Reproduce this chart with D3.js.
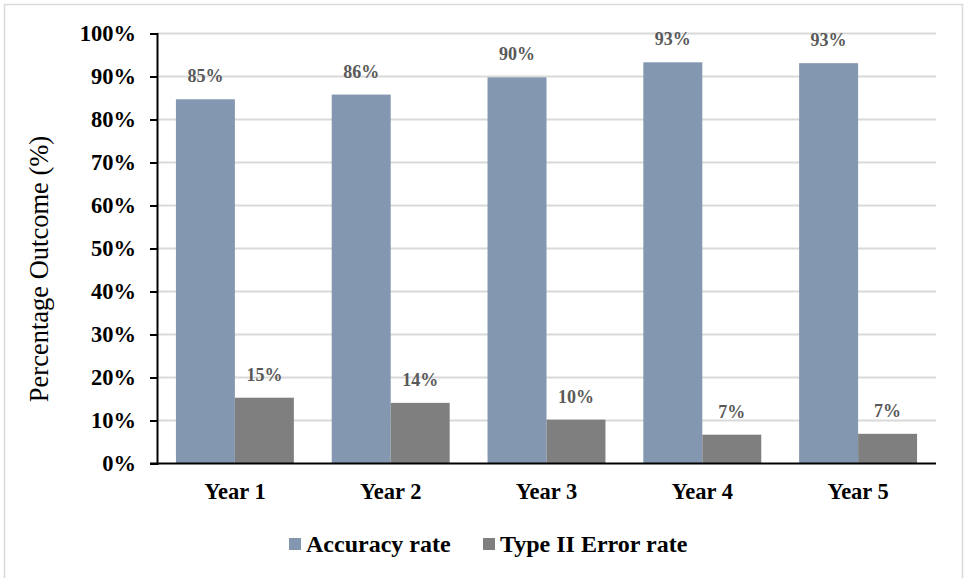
<!DOCTYPE html>
<html>
<head>
<meta charset="utf-8">
<script src="https://cdn.jsdelivr.net/npm/d3@7"></script>
<style>
  html, body { margin: 0; padding: 0; background: #fff; }
  svg { display: block; }
  svg text { font-family: "Liberation Serif", Tinos, "Times New Roman", Times, serif !important; }
</style>
</head>
<body>
<svg id="chart" width="965" height="578"></svg>
<script>
// Yearly outcome rates
const years = ["Year 1", "Year 2", "Year 3", "Year 4", "Year 5"];
const seriesNames = ["Accuracy rate", "Type II Error rate"];
const accuracyRate = [0.847, 0.858, 0.898, 0.933, 0.931];
const typeIIErrorRate = [0.153, 0.141, 0.102, 0.067, 0.069];
const yTicks = [0, 0.1, 0.2, 0.3, 0.4, 0.5, 0.6, 0.7, 0.8, 0.9, 1.0];
const colors = ["#8497b0", "#7f7f7f"];

const seriesValues = [accuracyRate, typeIIErrorRate];
const rows = years.map((year, i) => ({
  year,
  values: seriesNames.map((name, s) => ({ name, value: seriesValues[s][i], s }))
}));

const svg = d3.select("#chart");

// outer frame
svg.append("rect")
  .attr("x", 4.5).attr("y", 4.5)
  .attr("width", 958).attr("height", 600)
  .attr("fill", "#fff")
  .attr("stroke", "#d9d9d9").attr("stroke-width", 1.5);

const plot = { left: 157, right: 936, top: 33.5, bottom: 463.5 };

const y = d3.scaleLinear().domain([0, 1]).range([plot.bottom, plot.top]);
const x = d3.scaleBand().domain(years)
  .range([plot.left, plot.right])
  .paddingInner(0.243).paddingOuter(0.1215);
const xSub = d3.scaleBand().domain(seriesNames).range([0, x.bandwidth()]);

// horizontal gridlines
svg.append("g")
  .selectAll("line")
  .data(yTicks.filter(t => t > 0))
  .join("line")
  .attr("x1", plot.left).attr("x2", plot.right)
  .attr("y1", d => y(d)).attr("y2", d => y(d))
  .attr("stroke", "#d9d9d9").attr("stroke-width", 2);

// bars
const groups = svg.append("g")
  .selectAll("g")
  .data(rows)
  .join("g")
  .attr("transform", d => `translate(${x(d.year)},0)`);

groups.selectAll("rect")
  .data(d => d.values)
  .join("rect")
  .attr("x", d => xSub(d.name))
  .attr("y", d => y(d.value))
  .attr("width", xSub.bandwidth())
  .attr("height", d => y(0) - y(d.value))
  .attr("fill", d => colors[d.s]);

// value labels
const pct = d3.format(".0%");
groups.selectAll("text")
  .data(d => d.values)
  .join("text")
  .attr("x", d => xSub(d.name) + xSub.bandwidth() / 2)
  .attr("y", d => y(d.value) - 17)
  .attr("text-anchor", "middle")
  .attr("font-weight", "bold")
  .attr("font-size", 18)
  .attr("fill", "#595959")
  .text(d => pct(d.value));

// y axis
const yAxis = d3.axisLeft(y).tickValues(yTicks).tickFormat(pct).tickSizeOuter(0).tickSize(7).tickPadding(14);
const gy = svg.append("g").attr("transform", `translate(${plot.left},0)`).call(yAxis);
gy.attr("font-family", null);
gy.select(".domain").attr("stroke", "#000").attr("stroke-width", 2);
gy.selectAll(".tick line").attr("stroke", "#000").attr("stroke-width", 2);
gy.selectAll(".tick text")
  .attr("font-size", 22.5).attr("font-weight", "bold").attr("fill", "#000");

// x axis
const xAxis = d3.axisBottom(x).tickSize(0).tickSizeOuter(0).tickPadding(20);
const gx = svg.append("g").attr("transform", `translate(0,${plot.bottom})`).call(xAxis);
gx.attr("font-family", null);
gx.select(".domain").attr("stroke", "#000").attr("stroke-width", 2)
  .attr("d", `M${plot.left - 7},0H${plot.right}`);
gx.selectAll(".tick text")
  .attr("font-size", 22.5).attr("font-weight", "bold").attr("fill", "#000");

// y axis title
svg.append("text")
  .attr("transform", "translate(48,269) rotate(-90)")
  .attr("text-anchor", "middle")
  .attr("font-size", 26.5)
  .attr("fill", "#000")
  .text("Percentage Outcome (%)");

// legend
const legend = svg.append("g").attr("transform", "translate(289,538)");
const legendX = [0, 194];
const items = legend.selectAll("g")
  .data(seriesNames)
  .join("g")
  .attr("transform", (d, i) => `translate(${legendX[i]},0)`);
items.append("rect")
  .attr("width", 12).attr("height", 12)
  .attr("fill", (d, i) => colors[i]);
items.append("text")
  .attr("x", 17).attr("y", 13.5)
  .attr("font-size", 24).attr("font-weight", "bold")
  .attr("fill", "#000")
  .text(d => d);
</script>
</body>
</html>
